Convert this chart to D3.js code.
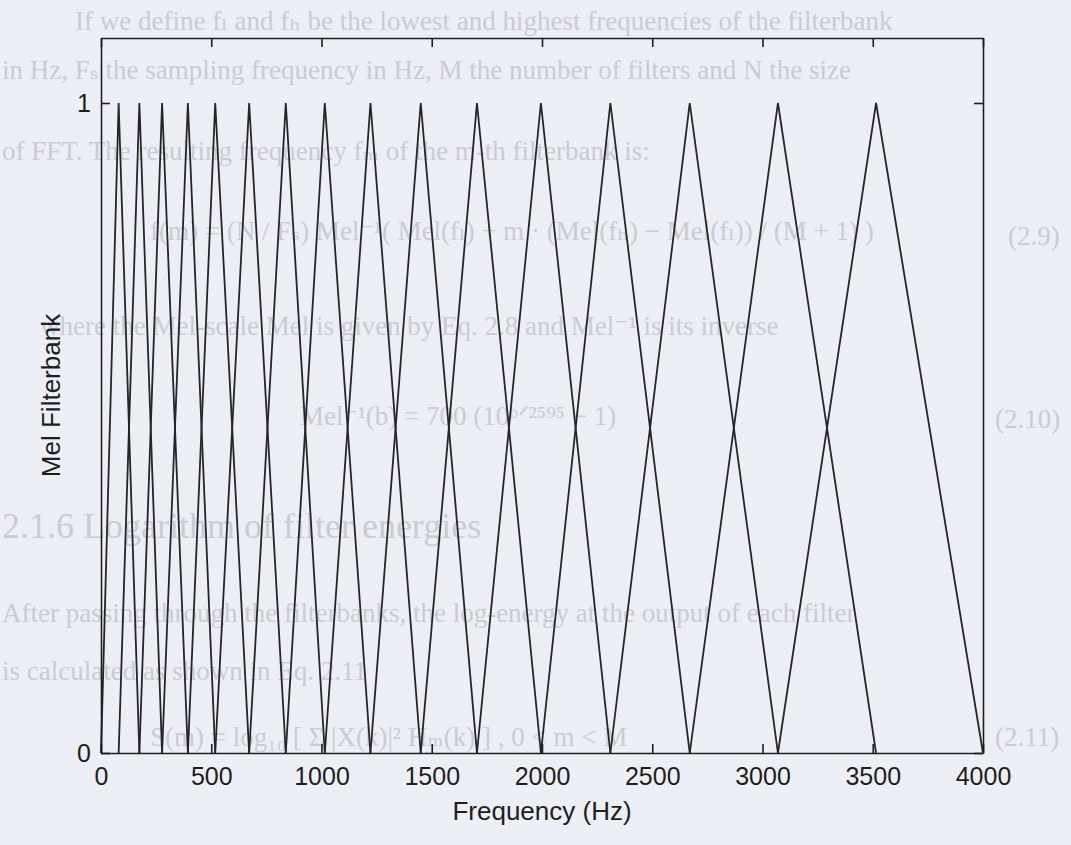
<!DOCTYPE html>
<html>
<head>
<meta charset="utf-8">
<script src="https://cdn.jsdelivr.net/npm/d3@7"></script>
<style>
  html, body { margin: 0; padding: 0; background: #eceff5; }
  svg { display: block; }
</style>
</head>
<body>
<svg id="chart" width="1071" height="845"></svg>
<script>
// filter edge frequencies (Hz): filter i rises from edgesHz[i] to a peak at edgesHz[i+1], falls to edgesHz[i+2]
const edgesHz = [0, 80, 174, 277, 394, 518, 672, 838, 1015, 1222, 1450, 1705, 1995, 2310, 2670, 3070, 3515, 4000];
const xTicks = [0, 500, 1000, 1500, 2000, 2500, 3000, 3500, 4000];
const yTicks = [0, 1];

// faint text of the scanned page behind the plot
const pageLines = [
    { text: "If we define f\u2097 and f\u2095 be the lowest and highest frequencies of the filterbank", x: 75, y: 30, size: 27 },
    { text: "in Hz, F\u209b the sampling frequency in Hz, M the number of filters and N the size", x: 2, y: 79, size: 27 },
    { text: "of FFT. The resulting frequency f\u2098 of the m-th filterbank is:", x: 2, y: 160, size: 27 },
    { text: "f(m) = (N / F\u209b) Mel\u207b\u00b9( Mel(f\u2097) + m \u00b7 (Mel(f\u2095) \u2212 Mel(f\u2097)) / (M + 1) )", x: 150, y: 240, size: 27 },
    { text: "(2.9)", x: 1008, y: 245, size: 27 },
    { text: "where the Mel-scale Mel is given by Eq. 2.8 and Mel\u207b\u00b9 is its inverse", x: 40, y: 335, size: 27 },
    { text: "Mel\u207b\u00b9(b) = 700 (10\u1d47\u141f\u00b2\u2075\u2079\u2075 \u2212 1)", x: 300, y: 425, size: 27 },
    { text: "(2.10)", x: 995, y: 428, size: 27 },
    { text: "2.1.6   Logarithm of filter energies", x: 2, y: 538, size: 36 },
    { text: "After passing through the filterbanks, the log-energy at the output of each filter", x: 2, y: 622, size: 27 },
    { text: "is calculated as shown in Eq. 2.11", x: 2, y: 680, size: 27 },
    { text: "S(m) = log\u2081\u2080 [ \u03a3 |X(k)|\u00b2 H\u2098(k) ] ,   0 < m < M", x: 150, y: 746, size: 27 },
    { text: "(2.11)", x: 995, y: 746, size: 27 }
];

const svg = d3.select("#chart");
const width = +svg.attr("width");
const height = +svg.attr("height");
const margin = { top: 38, right: 88, bottom: 92, left: 101 };

svg.append("g")
    .selectAll("text")
    .data(pageLines)
    .join("text")
    .attr("x", d => d.x)
    .attr("y", d => d.y)
    .attr("font-family", "'Liberation Serif', 'DejaVu Serif', serif")
    .attr("font-size", d => d.size)
    .attr("fill", "#c9ccd5")
    .text(d => d.text);

const x = d3.scaleLinear().domain([0, 4000]).range([margin.left, width - margin.right]);
const y = d3.scaleLinear().domain([0, 1.1]).range([height - margin.bottom, margin.top]);

const filters = d3.range(edgesHz.length - 2).map(i => [
    { f: edgesHz[i], v: 0 },
    { f: edgesHz[i + 1], v: 1 },
    { f: edgesHz[i + 2], v: 0 }
]);

const line = d3.line().x(d => x(d.f)).y(d => y(d.v));

svg.append("g")
    .selectAll("path")
    .data(filters)
    .join("path")
    .attr("d", line)
    .attr("fill", "none")
    .attr("stroke", "#262626")
    .attr("stroke-width", 1.8)
    .attr("stroke-linejoin", "miter");

const tickLen = 9;
const fontFamily = "'Liberation Sans', Arial, sans-serif";

const styleAxis = g => {
    g.select(".domain").attr("stroke", "#1e1e1e").attr("stroke-width", 1.6);
    g.selectAll(".tick line").attr("stroke", "#1e1e1e").attr("stroke-width", 1.6);
    g.selectAll("text").attr("fill", "#1e1e1e").attr("font-family", fontFamily).attr("font-size", 25);
};

svg.append("g")
    .attr("transform", `translate(0,${y(0)})`)
    .call(d3.axisBottom(x).tickValues(xTicks).tickSizeInner(-tickLen).tickSizeOuter(0).tickFormat(d3.format("d")))
    .call(styleAxis)
    .call(g => g.selectAll("text").attr("y", 32).attr("dy", 0));

svg.append("g")
    .attr("transform", `translate(0,${margin.top})`)
    .call(d3.axisTop(x).tickValues(xTicks).tickSizeInner(-tickLen).tickSizeOuter(0).tickFormat(""))
    .call(styleAxis);

svg.append("g")
    .attr("transform", `translate(${margin.left},0)`)
    .call(d3.axisLeft(y).tickValues(yTicks).tickSizeInner(-tickLen).tickSizeOuter(0).tickFormat(d3.format("d")))
    .call(styleAxis)
    .call(g => g.selectAll("text").attr("x", -10).attr("dy", "0.35em"));

svg.append("g")
    .attr("transform", `translate(${width - margin.right},0)`)
    .call(d3.axisRight(y).tickValues(yTicks).tickSizeInner(-tickLen).tickSizeOuter(0).tickFormat(""))
    .call(styleAxis);

svg.append("text")
    .attr("x", (margin.left + width - margin.right) / 2)
    .attr("y", 820)
    .attr("text-anchor", "middle")
    .attr("font-family", fontFamily)
    .attr("font-size", 26)
    .attr("fill", "#1e1e1e")
    .text("Frequency (Hz)");

svg.append("text")
    .attr("transform", `translate(60,${(margin.top + height - margin.bottom) / 2}) rotate(-90)`)
    .attr("text-anchor", "middle")
    .attr("font-family", fontFamily)
    .attr("font-size", 26)
    .attr("fill", "#1e1e1e")
    .text("Mel Filterbank");
</script>
</body>
</html>
